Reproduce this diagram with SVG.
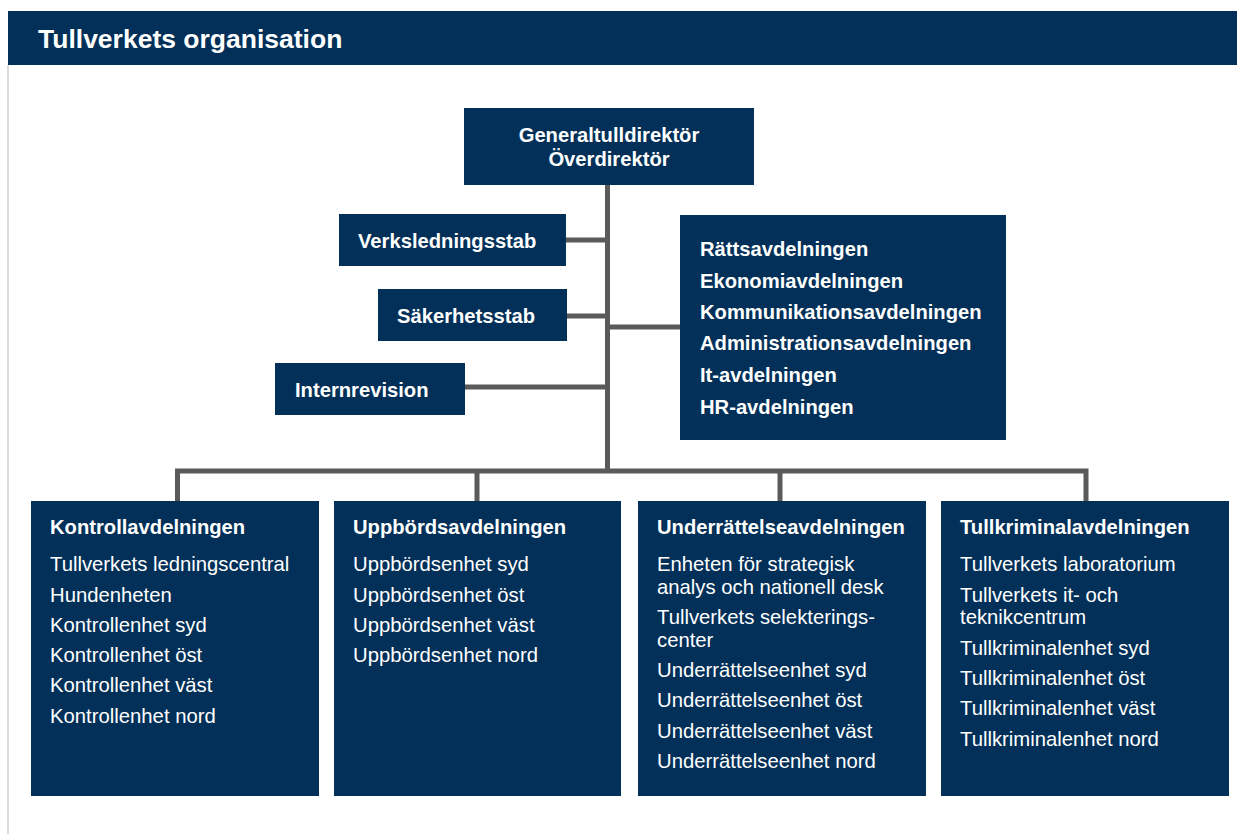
<svg xmlns="http://www.w3.org/2000/svg" width="1237" height="834" viewBox="0 0 1237 834">
<style>
.box{fill:#023058}
.t{font-family:"Liberation Sans",Arial,sans-serif;fill:#ffffff}
.b{font-weight:bold;font-size:20.2px}
.r{font-size:20.3px}
.c{stroke:#5a5a5a;stroke-width:5;fill:none}
</style>
<rect x="0" y="0" width="1237" height="834" fill="#ffffff"/>
<line x1="8" y1="65" x2="8" y2="834" stroke="#dcdcdc" stroke-width="2"/>
<g id="header">
<rect class="box" x="8" y="11" width="1229" height="54"/>
<text class="t" x="38" y="48" font-weight="bold" font-size="26.5">Tullverkets organisation</text>
</g>
<g id="connectors">
<line class="c" x1="607.5" y1="184" x2="607.5" y2="471"/>
<line class="c" x1="565" y1="240" x2="607.5" y2="240"/>
<line class="c" x1="567" y1="316" x2="607.5" y2="316"/>
<line class="c" x1="465" y1="387" x2="607.5" y2="387"/>
<line class="c" x1="607.5" y1="327" x2="680" y2="327"/>
<polyline class="c" points="177.5,501 177.5,471 1086,471 1086,501"/>
<line class="c" x1="477" y1="471" x2="477" y2="501"/>
<line class="c" x1="780" y1="471" x2="780" y2="501"/>
</g>
<g id="generaltulldirektor">
<rect class="box" x="464" y="108" width="290" height="77"/>
<text class="t b" x="609" y="142" text-anchor="middle">Generaltulldirektör</text>
<text class="t b" x="609" y="166" text-anchor="middle">Överdirektör</text>
</g>
<g id="verksledningsstab">
<rect class="box" x="339" y="214" width="227" height="52"/>
<text class="t b" x="358" y="248">Verksledningsstab</text>
</g>
<g id="sakerhetsstab">
<rect class="box" x="378" y="289" width="189" height="52"/>
<text class="t b" x="397" y="323">Säkerhetsstab</text>
</g>
<g id="internrevision">
<rect class="box" x="275" y="363" width="190" height="52"/>
<text class="t b" x="295" y="397">Internrevision</text>
</g>
<g id="avdelningar">
<rect class="box" x="680" y="215" width="326" height="225"/>
<text class="t b" x="700" y="256">Rättsavdelningen</text>
<text class="t b" x="700" y="288">Ekonomiavdelningen</text>
<text class="t b" x="700" y="319">Kommunikationsavdelningen</text>
<text class="t b" x="700" y="350">Administrationsavdelningen</text>
<text class="t b" x="700" y="382">It-avdelningen</text>
<text class="t b" x="700" y="414">HR-avdelningen</text>
</g>
<g id="kontrollavdelningen">
<rect class="box" x="31" y="501" width="288" height="295"/>
<text class="t b" x="50" y="534">Kontrollavdelningen</text>
<text class="t r" x="50" y="571">Tullverkets ledningscentral</text>
<text class="t r" x="50" y="602">Hundenheten</text>
<text class="t r" x="50" y="632">Kontrollenhet syd</text>
<text class="t r" x="50" y="662">Kontrollenhet öst</text>
<text class="t r" x="50" y="692">Kontrollenhet väst</text>
<text class="t r" x="50" y="723">Kontrollenhet nord</text>
</g>
<g id="uppbordsavdelningen">
<rect class="box" x="334" y="501" width="287" height="295"/>
<text class="t b" x="353" y="534">Uppbördsavdelningen</text>
<text class="t r" x="353" y="571">Uppbördsenhet syd</text>
<text class="t r" x="353" y="602">Uppbördsenhet öst</text>
<text class="t r" x="353" y="632">Uppbördsenhet väst</text>
<text class="t r" x="353" y="662">Uppbördsenhet nord</text>
</g>
<g id="underrattelseavdelningen">
<rect class="box" x="638" y="501" width="288" height="295"/>
<text class="t b" x="657" y="534">Underrättelseavdelningen</text>
<text class="t r" x="657" y="571">Enheten för strategisk</text>
<text class="t r" x="657" y="594">analys och nationell desk</text>
<text class="t r" x="657" y="624">Tullverkets selekterings-</text>
<text class="t r" x="657" y="647">center</text>
<text class="t r" x="657" y="677">Underrättelseenhet syd</text>
<text class="t r" x="657" y="707">Underrättelseenhet öst</text>
<text class="t r" x="657" y="738">Underrättelseenhet väst</text>
<text class="t r" x="657" y="768">Underrättelseenhet nord</text>
</g>
<g id="tullkriminalavdelningen">
<rect class="box" x="941" y="501" width="288" height="295"/>
<text class="t b" x="960" y="534">Tullkriminalavdelningen</text>
<text class="t r" x="960" y="571">Tullverkets laboratorium</text>
<text class="t r" x="960" y="602">Tullverkets it- och</text>
<text class="t r" x="960" y="624">teknikcentrum</text>
<text class="t r" x="960" y="655">Tullkriminalenhet syd</text>
<text class="t r" x="960" y="685">Tullkriminalenhet öst</text>
<text class="t r" x="960" y="715">Tullkriminalenhet väst</text>
<text class="t r" x="960" y="746">Tullkriminalenhet nord</text>
</g>
</svg>
